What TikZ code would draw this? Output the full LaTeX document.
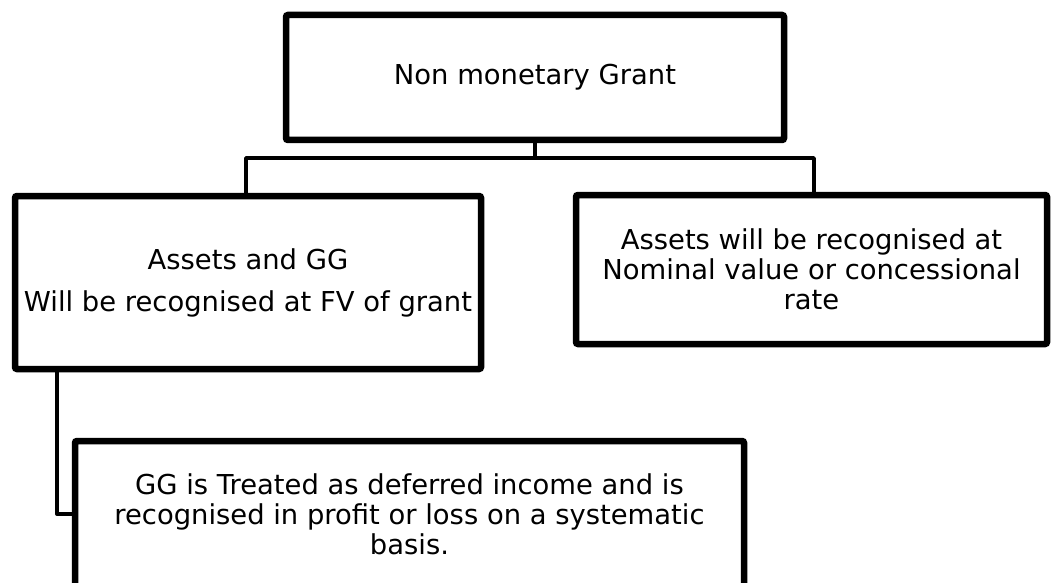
\documentclass[tikz,border=0pt]{standalone}
\usepackage{fontspec}
\setmainfont{DejaVu Sans}
\usetikzlibrary{shadows}
\begin{document}
\begin{tikzpicture}[x=1pt,y=-1pt,
  box/.style={draw=black, line width=6.5pt, fill=white, rounded corners=2pt,
    align=center, inner sep=0pt, font=\fontsize{27.4}{30}\selectfont,
    drop shadow={shadow xshift=2pt, shadow yshift=-2pt, opacity=0.18}},
  conn/.style={draw=black, line width=3.5pt, line join=round}]
\useasboundingbox (0,0) rectangle (1055,583);
\fill[white] (0,0) rectangle (1055,583);
% connectors first (behind boxes)
\coordinate (j) at (535,158);
\node[box, minimum width=498pt, minimum height=125pt] (top) at (535,77.5) {Non monetary Grant};
\node[box, minimum width=466pt, minimum height=173pt] (left) at (248,282.5) {Assets and GG\\[12pt]Will be recognised at FV of grant};
\node[box, minimum width=471pt, minimum height=149pt] (right) at (811.5,269.5) {Assets will be recognised at\\Nominal value or concessional\\rate};
\node[box, minimum width=669pt, minimum height=146pt] (bottom) at (409.5,514) {GG is Treated as deferred income and is\\recognised in profit or loss on a systematic\\basis.};
\begin{scope}[on background layer/.try]
\end{scope}
\draw[conn] (top.south) -- (j) -| ([xshift=-2pt]left.north);
\draw[conn] (j) -| ([xshift=2.5pt]right.north);
\draw[conn] ([xshift=45pt]left.south west) |- (bottom.west);
\end{tikzpicture}
\end{document}
